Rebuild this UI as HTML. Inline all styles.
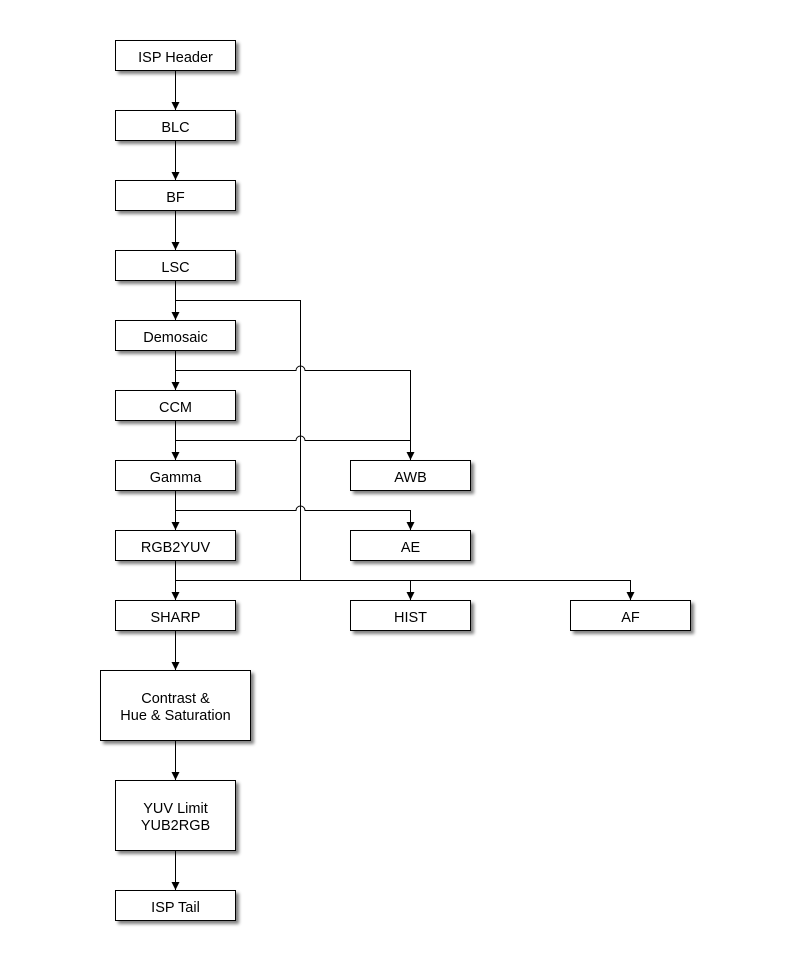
<!DOCTYPE html>
<html><head><meta charset="utf-8"><style>body{margin:0;background:#fff}</style></head><body>
<svg width="790" height="960" xmlns="http://www.w3.org/2000/svg" font-family="Liberation Sans, sans-serif" font-size="14.5">
<defs>
<filter id="sh" x="-10%" y="-20%" width="130%" height="160%"><feGaussianBlur in="SourceAlpha" stdDeviation="1.5"/><feOffset dx="3" dy="3"/><feComponentTransfer><feFuncA type="linear" slope="0.5"/></feComponentTransfer><feMerge><feMergeNode/><feMergeNode in="SourceGraphic"/></feMerge></filter>
<marker id="a" markerWidth="8" markerHeight="8" refX="8" refY="4" orient="auto" markerUnits="userSpaceOnUse"><path d="M0,0L8,4L0,8z" fill="#000"/></marker>
</defs>
<g stroke="#000" stroke-width="1" fill="none">
<path d="M175.5 70V110" marker-end="url(#a)"/>
<path d="M175.5 140V180" marker-end="url(#a)"/>
<path d="M175.5 210V250" marker-end="url(#a)"/>
<path d="M175.5 280V320" marker-end="url(#a)"/>
<path d="M175.5 350V390" marker-end="url(#a)"/>
<path d="M175.5 420V460" marker-end="url(#a)"/>
<path d="M175.5 490V530" marker-end="url(#a)"/>
<path d="M175.5 560V600" marker-end="url(#a)"/>
<path d="M175.5 630V670" marker-end="url(#a)"/>
<path d="M175.5 740V780" marker-end="url(#a)"/>
<path d="M175.5 850V890" marker-end="url(#a)"/>
<path d="M175.5 300.5H300.5V580.5"/>
<path d="M175.5 370.5H296a4.5 4.5 0 0 1 9 0H410.5V460" marker-end="url(#a)"/>
<path d="M175.5 440.5H296a4.5 4.5 0 0 1 9 0H410.5"/>
<path d="M175.5 510.5H296a4.5 4.5 0 0 1 9 0H410.5V530" marker-end="url(#a)"/>
<path d="M175.5 580.5H630.5V600" marker-end="url(#a)"/>
<path d="M410.5 580.5V600" marker-end="url(#a)"/>
</g>
<g fill="#fff" stroke="#000" filter="url(#sh)">
<rect x="115.5" y="40.5" width="120" height="30"/>
<rect x="115.5" y="110.5" width="120" height="30"/>
<rect x="115.5" y="180.5" width="120" height="30"/>
<rect x="115.5" y="250.5" width="120" height="30"/>
<rect x="115.5" y="320.5" width="120" height="30"/>
<rect x="115.5" y="390.5" width="120" height="30"/>
<rect x="115.5" y="460.5" width="120" height="30"/>
<rect x="115.5" y="530.5" width="120" height="30"/>
<rect x="115.5" y="600.5" width="120" height="30"/>
<rect x="100.5" y="670.5" width="150" height="70"/>
<rect x="115.5" y="780.5" width="120" height="70"/>
<rect x="115.5" y="890.5" width="120" height="30"/>
<rect x="350.5" y="460.5" width="120" height="30"/>
<rect x="350.5" y="530.5" width="120" height="30"/>
<rect x="350.5" y="600.5" width="120" height="30"/>
<rect x="570.5" y="600.5" width="120" height="30"/>
</g>
<g text-anchor="middle" fill="#000">
<text x="175.5" y="62">ISP Header</text>
<text x="175.5" y="132">BLC</text>
<text x="175.5" y="202">BF</text>
<text x="175.5" y="272">LSC</text>
<text x="175.5" y="342">Demosaic</text>
<text x="175.5" y="412">CCM</text>
<text x="175.5" y="482">Gamma</text>
<text x="175.5" y="552">RGB2YUV</text>
<text x="175.5" y="622">SHARP</text>
<text x="175.5" y="703">Contrast &amp;</text>
<text x="175.5" y="720">Hue &amp; Saturation</text>
<text x="175.5" y="813">YUV Limit</text>
<text x="175.5" y="830">YUB2RGB</text>
<text x="175.5" y="912">ISP Tail</text>
<text x="410.5" y="482">AWB</text>
<text x="410.5" y="552">AE</text>
<text x="410.5" y="622">HIST</text>
<text x="630.5" y="622">AF</text>
</g>
</svg>
</body></html>
